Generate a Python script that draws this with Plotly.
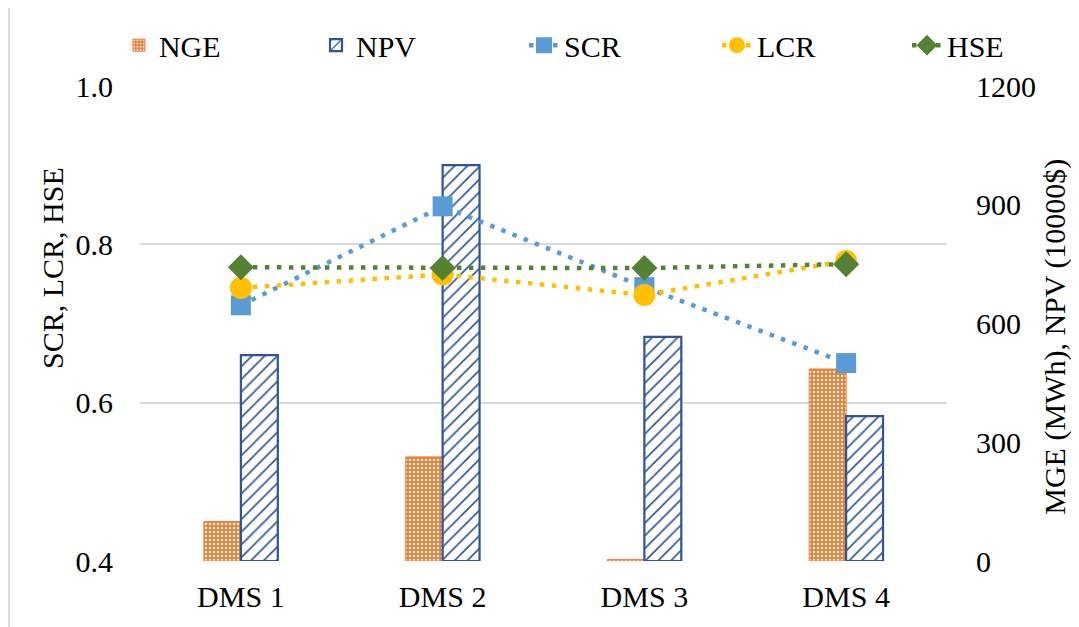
import plotly.graph_objects as go

categories = ["DMS 1", "DMS 2", "DMS 3", "DMS 4"]
nge = [100, 263, 4, 485]
npv = [520, 1000, 566, 366]
scr = [0.723, 0.848, 0.746, 0.650]
lcr = [0.745, 0.762, 0.736, 0.779]
hse = [0.771, 0.770, 0.770, 0.775]

FONT = "Liberation Serif, Times New Roman, serif"
FS = 30

fig = go.Figure()
fig.add_trace(go.Bar(
    x=categories, y=nge, name="NGE", yaxis="y", legend="legend",
    marker=dict(color="#ED7D31", line=dict(color="#ED7D31", width=1),
                pattern=dict(shape=".", fgcolor="white", bgcolor="#ED7D31",
                             size=4, solidity=0.3, fillmode="replace")),
))
fig.add_trace(go.Bar(
    x=categories, y=npv, name="NPV", yaxis="y", legend="legend2",
    marker=dict(color="white", line=dict(color="#2F5597", width=2.2),
                pattern=dict(shape="/", fgcolor="#2F5597", bgcolor="white",
                             size=9, solidity=0.18, fillmode="replace")),
))
line_specs = [
    ("SCR", scr, "#5B9BD5", "square", 20, "legend3"),
    ("LCR", lcr, "#FFC000", "circle", 22, "legend4"),
    ("HSE", hse, "#548235", "diamond", 20, "legend5"),
]
for name, vals, col, sym, sz, lg in line_specs:
    fig.add_trace(go.Scatter(
        x=categories, y=vals, name=name, yaxis="y2", mode="lines+markers", legend=lg,
        line=dict(color=col, width=4.5, dash="4.5px,7.5px"),
        marker=dict(color=col, symbol=sym, size=sz, line=dict(width=0)),
    ))

legend_x = [0.1036, 0.2876, 0.4818, 0.662, 0.8394]
legends = {}
for i, lx in enumerate(legend_x):
    key = "legend" if i == 0 else f"legend{i + 1}"
    legends[key] = dict(orientation="h", xref="container", yref="container",
                        x=lx, xanchor="left", y=0.94, yanchor="middle",
                        font=dict(family=FONT, size=FS), bgcolor="rgba(0,0,0,0)")

fig.update_layout(
    width=1071, height=619,
    paper_bgcolor="white", plot_bgcolor="white",
    margin=dict(l=132, r=132, t=78, b=66, autoexpand=False),
    font=dict(family=FONT, size=FS, color="black"),
    barmode="group", bargap=0.634, bargroupgap=0,
    showlegend=True,
    **legends,
    xaxis=dict(type="category", showgrid=False, showline=False, zeroline=False,
               ticks="outside", ticklen=9, tickcolor="rgba(0,0,0,0)",
               tickfont=dict(family=FONT, size=FS), automargin=False),
    yaxis=dict(side="right", range=[0, 1200], tickvals=[0, 300, 600, 900, 1200],
               showgrid=False, zeroline=False, showline=False,
               ticks="outside", ticklen=22, tickcolor="rgba(0,0,0,0)",
               tickfont=dict(family=FONT, size=FS), automargin=False),
    yaxis2=dict(overlaying="y", side="left", range=[0.4, 1.0],
                tickvals=[0.4, 0.6, 0.8, 1.0], tickformat=".1f",
                showgrid=True, gridcolor="#D9D9D9", gridwidth=1.5,
                zeroline=False, showline=False,
                ticks="outside", ticklen=20, tickcolor="rgba(0,0,0,0)",
                tickfont=dict(family=FONT, size=FS), automargin=False),
    annotations=[
        dict(text="SCR, LCR, HSE", xref="paper", yref="paper", x=-0.1078, y=0.617,
             xanchor="center", yanchor="middle", textangle=-90, showarrow=False,
             font=dict(family=FONT, size=FS)),
        dict(text="MGE (MWh), NPV (10000$)", xref="paper", yref="paper", x=1.1335, y=0.4716,
             xanchor="center", yanchor="middle", textangle=-90, showarrow=False,
             font=dict(family=FONT, size=FS)),
    ],
    shapes=[dict(type="line", xref="paper", yref="paper",
                 x0=-0.1625, x1=-0.1625, y0=-0.14, y1=1.17,
                 line=dict(color="#D9D9D9", width=2))],
)

fig.write_html("out.html")
